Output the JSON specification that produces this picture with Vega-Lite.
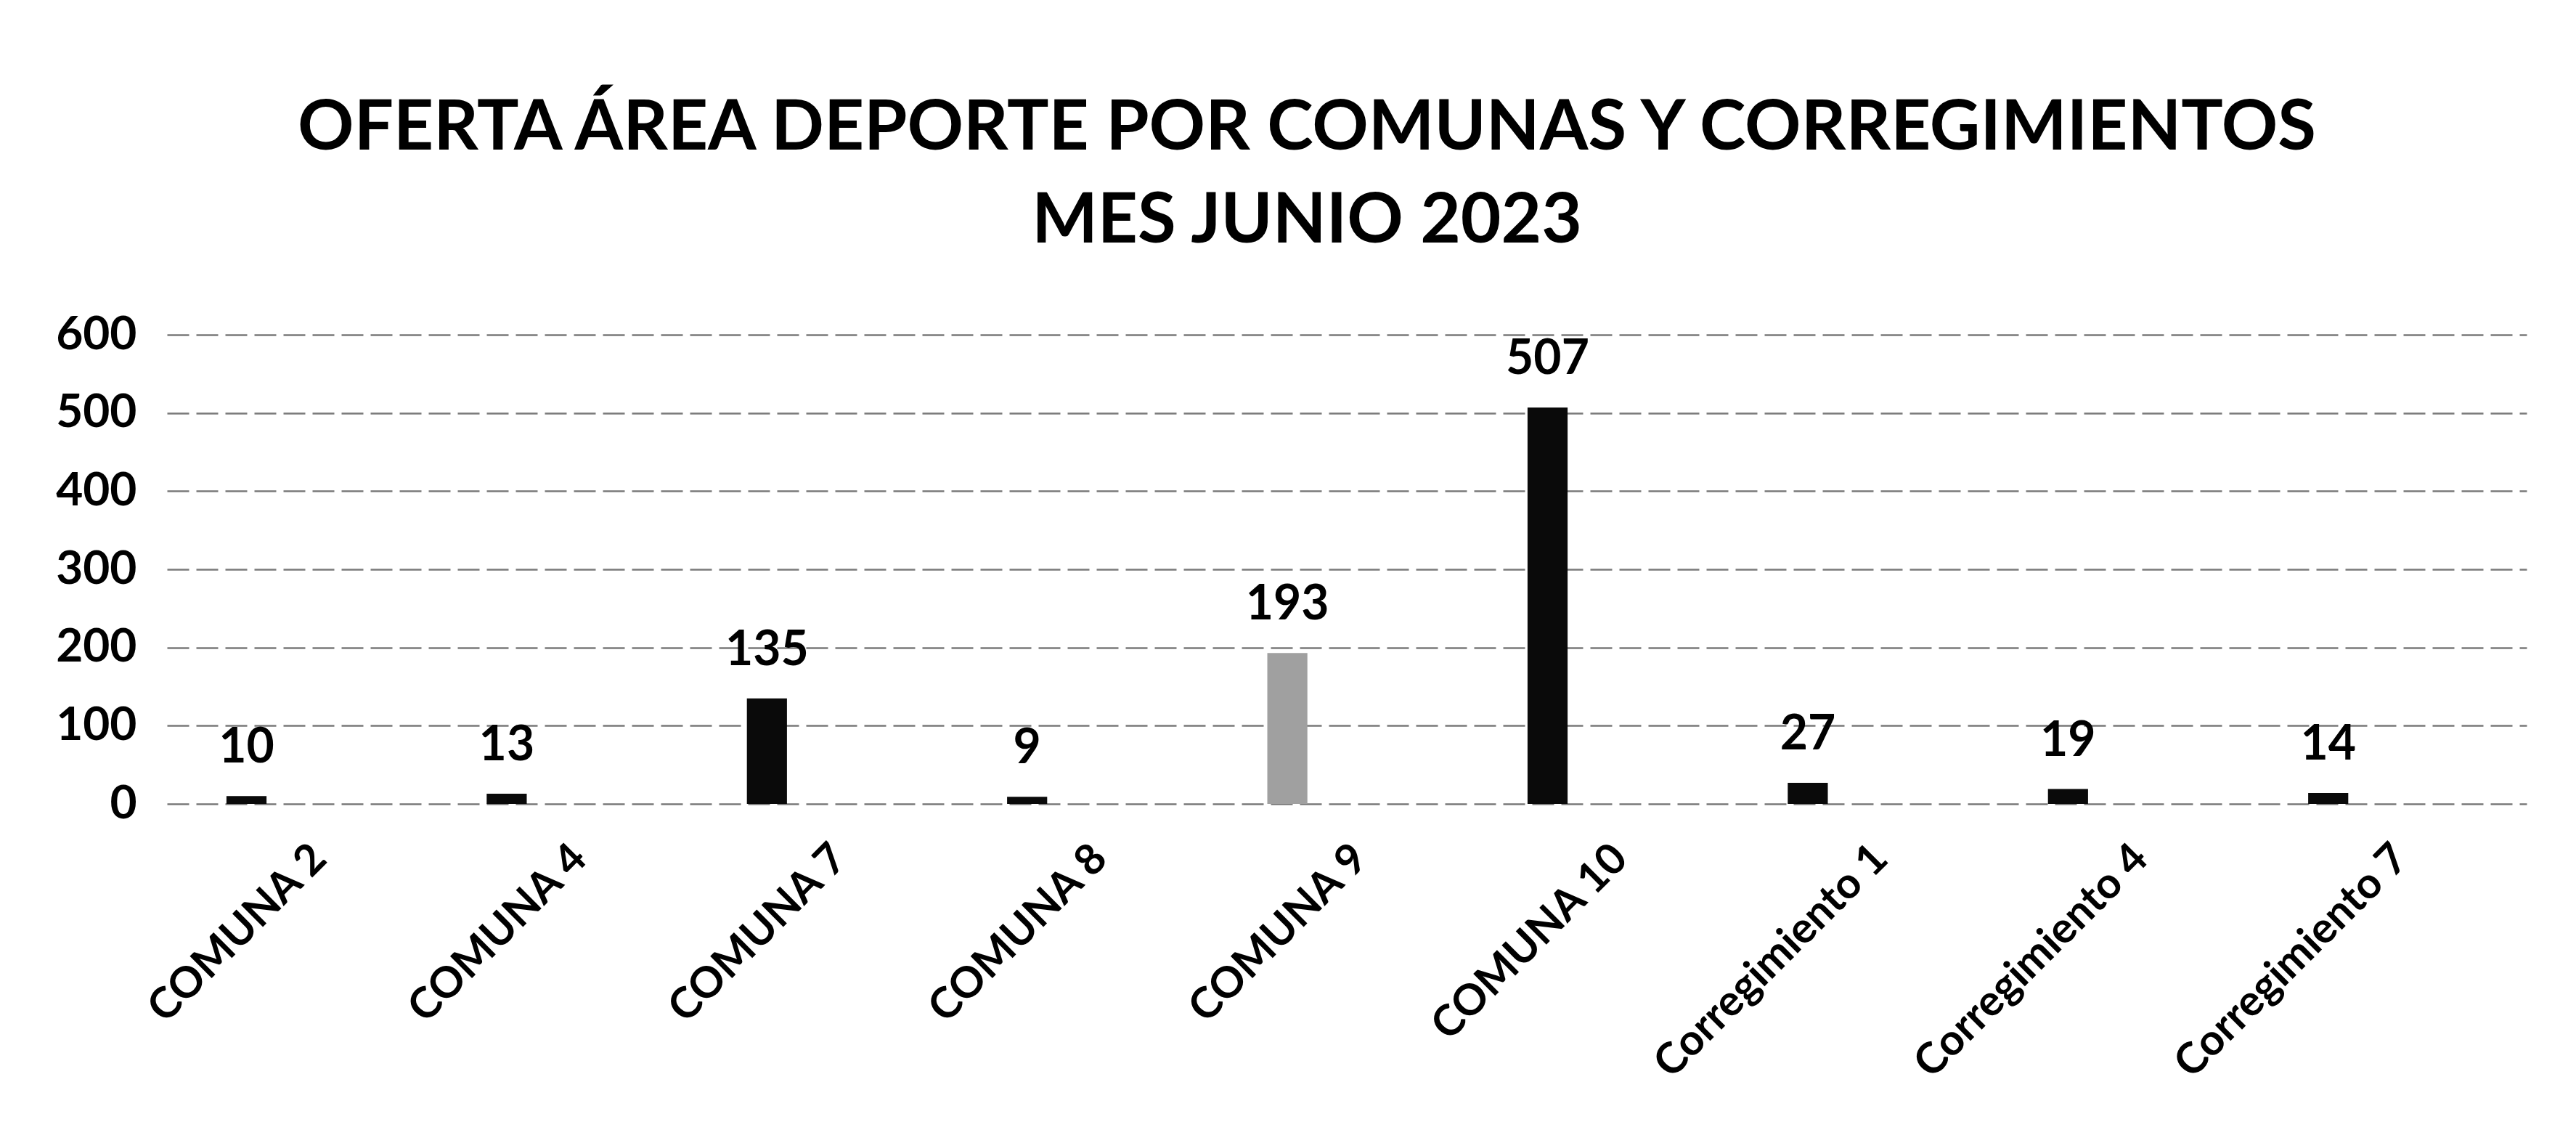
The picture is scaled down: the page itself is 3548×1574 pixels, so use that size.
{
  "$schema": "https://vega.github.io/schema/vega-lite/v6.json",
  "autosize": {"type": "none"},
  "width": 3250,
  "height": 646,
  "padding": {"top": 461, "left": 230, "right": 68, "bottom": 467},
  "background": "white",
  "title": {
    "text": ["OFERTA ÁREA DEPORTE POR COMUNAS Y CORREGIMIENTOS", "MES JUNIO 2023"],
    "font": "Lato",
    "fontWeight": "bold",
    "fontSize": 96,
    "lineHeight": 128,
    "color": "#000000",
    "anchor": "middle",
    "dx": -55,
    "offset": 75
  },
  "data": {
    "values": [
      {"zona": "COMUNA 2", "valor": 10, "grupo": "a"},
      {"zona": "COMUNA 4", "valor": 13, "grupo": "a"},
      {"zona": "COMUNA 7", "valor": 135, "grupo": "a"},
      {"zona": "COMUNA 8", "valor": 9, "grupo": "a"},
      {"zona": "COMUNA 9", "valor": 193, "grupo": "b"},
      {"zona": "COMUNA 10", "valor": 507, "grupo": "a"},
      {"zona": "Corregimiento 1", "valor": 27, "grupo": "a"},
      {"zona": "Corregimiento 4", "valor": 19, "grupo": "a"},
      {"zona": "Corregimiento 7", "valor": 14, "grupo": "a"}
    ]
  },
  "encoding": {
    "x": {
      "field": "zona",
      "type": "nominal",
      "sort": null,
      "scale": {"paddingInner": 0.846, "paddingOuter": 0.457, "align": 0.25},
      "axis": {
        "title": null,
        "labelAngle": -45,
        "labelFont": "Lato",
        "labelFontWeight": "bold",
        "labelFontSize": 59,
        "labelColor": "#000000",
        "labelPadding": 45,
        "labelOffset": 80,
        "labelLimit": 0,
        "domain": false,
        "ticks": false,
        "grid": false
      }
    },
    "y": {
      "field": "valor",
      "type": "quantitative",
      "scale": {"domain": [0, 600], "nice": false},
      "axis": {
        "title": null,
        "values": [0, 100, 200, 300, 400, 500, 600],
        "labelFont": "Lato",
        "labelFontWeight": "bold",
        "labelFontSize": 64,
        "labelColor": "#000000",
        "labelPadding": 42,
        "domain": false,
        "ticks": false,
        "grid": true,
        "gridColor": "#7a7a7a",
        "gridWidth": 2.5,
        "gridDash": [30, 10]
      }
    }
  },
  "layer": [
    {
      "mark": {"type": "bar"},
      "encoding": {
        "color": {
          "field": "grupo",
          "type": "nominal",
          "scale": {"domain": ["a", "b"], "range": ["#0a0a0a", "#a0a0a0"]},
          "legend": null
        }
      }
    },
    {
      "mark": {"type": "text", "baseline": "alphabetic", "dy": -46, "font": "Lato", "fontWeight": "bold", "fontSize": 66, "color": "#000000"},
      "encoding": {"text": {"field": "valor", "type": "quantitative"}}
    }
  ],
  "config": {"view": {"stroke": null}}
}
